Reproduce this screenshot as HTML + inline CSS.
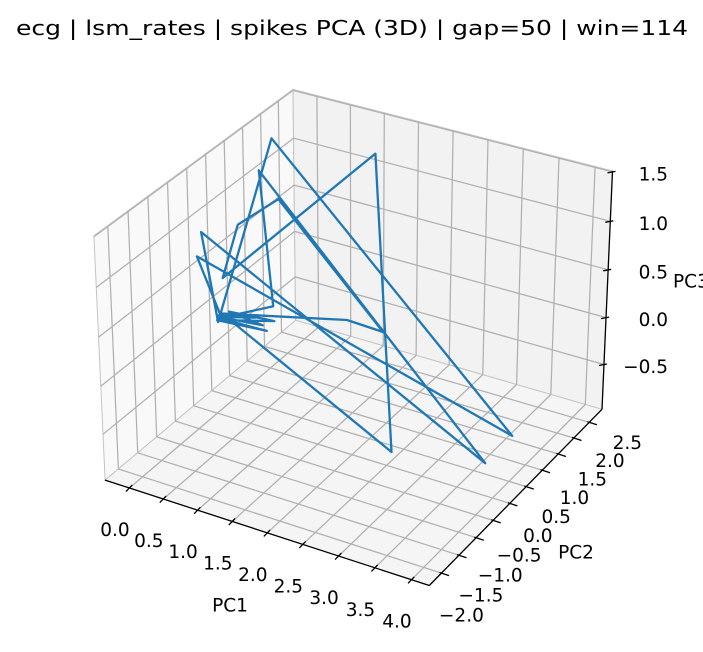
<!DOCTYPE html>
<html><head><meta charset="utf-8">
<style>
html,body{margin:0;padding:0;background:#fff;}
svg{display:block;font-family:"DejaVu Sans","Liberation Sans",sans-serif;}
</style></head>
<body>
<svg id="chart" width="703" height="652" viewBox="0 0 703 652" xmlns="http://www.w3.org/2000/svg">
<rect width="703" height="652" fill="#ffffff"/>
<text x="352" y="35" text-anchor="middle" font-size="20" textLength="672" lengthAdjust="spacingAndGlyphs" fill="#000">ecg | lsm_rates | spikes PCA (3D) | gap=50 | win=114</text>
<g id="panes"></g>
<g id="grid"></g>
<g id="axes"></g>
<g id="series"></g>
<text x="230" y="606" text-anchor="middle" dominant-baseline="central" font-size="18.5">PC1</text>
<text x="576" y="553" text-anchor="middle" dominant-baseline="central" font-size="18.5">PC2</text>
<text x="673" y="282" text-anchor="start" dominant-baseline="central" font-size="18.5">PC3</text>
</svg>
<script>
// ---- data ----
const pc1 = [0.152, 2.426, 1.002, -0.033, 0.210, 0.383, 2.297, 1.783, -0.090, -0.111, 3.654, -0.13, -0.119, -0.039, 3.756, -0.33, 0.710, -0.105, 0.610, -0.133, 0.725, 0.05, 0.55, -0.12, 0.45, -0.10];
const pc2 = [0.29, 0.29, 2.657, 0.29, 0.29, 1.079, 0.29, 0.29, 0.29, -0.236, 1.342, 1.868, 0.29, -0.236, 0.29, 1.868, 0.29, 0.29, 0.29, 0.29, 0.29, 0.29, 0.29, 0.29, 0.29, 0.29];
const pc3 = [-0.100, -0.960, 1.16, 0.357, 0.956, 1.022, 0.275, 0.292, -0.027, 0.724, -0.870, 1.33, -0.126, 0.988, -0.775, 0.96, 0.2125, -0.082, -0.067, -0.108, 0.060, 0.02, -0.02, -0.07, 0.04, -0.05];
const xTicks = [0, 0.5, 1, 1.5, 2, 2.5, 3, 3.5, 4];
const yTicks = [-2, -1.5, -1, -0.5, 0, 0.5, 1, 1.5, 2, 2.5];
const zTicks = [-0.5, 0, 0.5, 1, 1.5];
const xLim = [-0.36, 4.24];
const yLim = [-2.34, 2.92];
const zLim = [-0.985, 1.51];

// ---- projection (elev 30, azim -60, perspective) ----
const BA = [1.1429, 1.1429, 0.8572];
const U = [0.8660, 0.5, 0], V = [-0.25, 0.4330, 0.8660], W = [0.4330, -0.75, 0.5];
const S = 3250, CX = 358, CY = 326;
function norm3(x, y, z) {
  return [(x - xLim[0]) / (xLim[1] - xLim[0]), (y - yLim[0]) / (yLim[1] - yLim[0]), (z - zLim[0]) / (zLim[1] - zLim[0])];
}
function projN(a, b, c) {
  const q = [(a - 0.5) * BA[0], (b - 0.5) * BA[1], (c - 0.5) * BA[2]];
  const px = q[0]*U[0] + q[1]*U[1] + q[2]*U[2];
  const py = q[0]*V[0] + q[1]*V[1] + q[2]*V[2];
  const D = 10 - (q[0]*W[0] + q[1]*W[1] + q[2]*W[2]);
  return [CX + S * px / D, CY - S * py / D];
}
function proj(x, y, z) { const n = norm3(x, y, z); return projN(n[0], n[1], n[2]); }

const NS = 'http://www.w3.org/2000/svg';
function mk(tag, attrs, parent) {
  const e = document.createElementNS(NS, tag);
  for (const k in attrs) e.setAttribute(k, attrs[k]);
  parent.appendChild(e);
  return e;
}
const gP = document.getElementById('panes'), gG = document.getElementById('grid'),
      gA = document.getElementById('axes'), gS = document.getElementById('series');
function pts(list) { return list.map(p => projN(p[0], p[1], p[2]).map(v => v.toFixed(1)).join(',')).join(' '); }

let e;
e = mk('polygon', {points: pts([[0,0,0],[0,1,0],[0,1,1],[0,0,1]]), fill: '#f9f9f9', stroke: '#c4c4c4', 'stroke-width': 1}, gP);


e = mk('polygon', {points: pts([[0,1,0],[1,1,0],[1,1,1],[0,1,1]]), fill: '#f2f2f2', stroke: '#c4c4c4', 'stroke-width': 1}, gP);


e = mk('polygon', {points: pts([[0,0,0],[1,0,0],[1,1,0],[0,1,0]]), fill: '#f5f5f5', stroke: '#c4c4c4', 'stroke-width': 1}, gP);



function line(p1, p2, parent, color, w, name) {
  const l = mk('line', {x1: p1[0].toFixed(1), y1: p1[1].toFixed(1), x2: p2[0].toFixed(1), y2: p2[1].toFixed(1), stroke: color, 'stroke-width': w}, parent);
  
  
  return l;
}
const GC = '#b0b0b0', GW = 1.25;
xTicks.forEach(t => {
  const a = norm3(t, 0, 0)[0];
  line(projN(a,0,0), projN(a,1,0), gG, GC, GW, 'grid-x-floor');
  line(projN(a,1,0), projN(a,1,1), gG, GC, GW, 'grid-x-wall');
});
yTicks.forEach(t => {
  const b = norm3(0, t, 0)[1];
  line(projN(0,b,0), projN(1,b,0), gG, GC, GW, 'grid-y-floor');
  line(projN(0,b,0), projN(0,b,1), gG, GC, GW, 'grid-y-wall');
});
zTicks.forEach(t => {
  const c = norm3(0, 0, t)[2];
  line(projN(0,0,c), projN(0,1,c), gG, GC, GW, 'grid-z-left');
  line(projN(0,1,c), projN(1,1,c), gG, GC, GW, 'grid-z-right');
});

line(projN(0,0,0), projN(1,0,0), gA, '#000', 1.3, 'x-axis-line');
line(projN(1,0,0), projN(1,1,0), gA, '#000', 1.3, 'y-axis-line');
line(projN(1,1,0), projN(1,1,1), gA, '#000', 1.3, 'z-axis-line');

function label(x, y, txt, anchor, name) {
  const t = mk('text', {x: x.toFixed(1), y: y.toFixed(1), 'text-anchor': anchor, 'dominant-baseline': 'central', 'font-size': 18.5, fill: '#000'}, gA);
  t.textContent = txt;
  
  
}
function fmt(v) { return (v < 0 ? '\u2212' : '') + Math.abs(v).toFixed(1); }

xTicks.forEach(t => {
  const p = proj(t, yLim[0], zLim[0]);
  line([p[0] + 2.8, p[1] - 2.9], [p[0] - 3.5, p[1] + 3.6], gA, '#000', 1.3, 'x-tick');
  label(p[0] - 14.5, p[1] + 42.5, fmt(t), 'middle', 'x-tick-label');
});
yTicks.forEach(t => {
  const p = proj(xLim[1], t, zLim[0]);
  const b = norm3(0, t, 0)[1];
  line([p[0] - 1.9, p[1] - 0.6], [p[0] + 7.6, p[1] + 2.5], gA, '#000', 1.3, 'y-tick');
  const ox = 20 + (38 - 20) * (b - 0.0646) / (0.920 - 0.0646);
  const oy = 43 + (21 - 43) * (b - 0.0646) / (0.920 - 0.0646);
  label(p[0] + ox, p[1] + oy, fmt(t), 'middle', 'y-tick-label');
});
zTicks.forEach(t => {
  const p = proj(xLim[1], yLim[1], t);
  line([p[0] - 5, p[1] + 1], [p[0] + 3, p[1] - 0.5], gA, '#000', 1.3, 'z-tick');
  label(668, p[1] + 3, fmt(t), 'end', 'z-tick-label');
});

const d = pc1.map((v, i) => proj(v, pc2[i], pc3[i])).map((p, i) => (i ? 'L' : 'M') + p[0].toFixed(1) + ',' + p[1].toFixed(1)).join(' ');
const path = mk('path', {d: d, fill: 'none', stroke: '#1f77b4', 'stroke-width': 2.3, 'stroke-linejoin': 'round', 'stroke-linecap': 'square'}, gS);


</script>
</body></html>
